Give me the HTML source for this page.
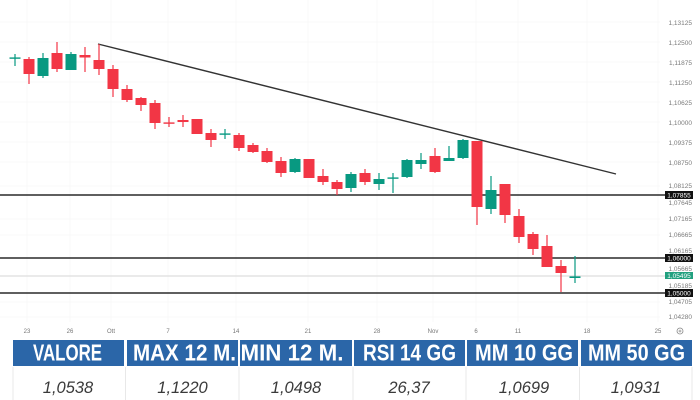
<!DOCTYPE html>
<html><head><meta charset="utf-8"><style>
html,body{margin:0;padding:0;background:#fff;}
svg{display:block;}
</style></head><body>
<svg width="700" height="400" viewBox="0 0 700 400" xmlns="http://www.w3.org/2000/svg" font-family="Liberation Sans, sans-serif">
<rect width="700" height="400" fill="#fff"/>
<!-- faint grid -->
<g stroke="#f8f8f8" stroke-width="1">
<line x1="27" y1="0" x2="27" y2="322"/><line x1="70" y1="0" x2="70" y2="322"/><line x1="111" y1="0" x2="111" y2="322"/>
<line x1="168" y1="0" x2="168" y2="322"/><line x1="236" y1="0" x2="236" y2="322"/><line x1="308" y1="0" x2="308" y2="322"/>
<line x1="377" y1="0" x2="377" y2="322"/><line x1="433" y1="0" x2="433" y2="322"/><line x1="476" y1="0" x2="476" y2="322"/>
<line x1="518" y1="0" x2="518" y2="322"/><line x1="587" y1="0" x2="587" y2="322"/><line x1="658" y1="0" x2="658" y2="322"/>
<line x1="0" y1="22" x2="660" y2="22"/><line x1="0" y1="42" x2="660" y2="42"/><line x1="0" y1="62" x2="660" y2="62"/>
<line x1="0" y1="82" x2="660" y2="82"/><line x1="0" y1="102" x2="660" y2="102"/><line x1="0" y1="122" x2="660" y2="122"/>
<line x1="0" y1="142" x2="660" y2="142"/><line x1="0" y1="162" x2="660" y2="162"/><line x1="0" y1="186" x2="660" y2="186"/>
<line x1="0" y1="219" x2="660" y2="219"/><line x1="0" y1="235" x2="660" y2="235"/><line x1="0" y1="302" x2="660" y2="302"/><line x1="0" y1="317" x2="660" y2="317"/>
</g>
<!-- horizontal levels -->
<line x1="0" y1="276" x2="665" y2="276" stroke="#d6d6d6" stroke-width="1"/>
<g stroke="#2a2a2a" stroke-width="1.4">
<line x1="0" y1="195" x2="665" y2="195"/>
<line x1="0" y1="258" x2="665" y2="258"/>
<line x1="0" y1="293" x2="665" y2="293"/>
</g>
<!-- trend line -->
<line x1="98" y1="44" x2="616" y2="174" stroke="#333" stroke-width="1.4"/>
<!-- candles -->
<g>
<g stroke="#089981" stroke-width="1.2" fill="#089981">
<line x1="15" y1="54" x2="15" y2="66"/><rect x="9.5" y="57.4" width="11" height="1.4" stroke="none"/>
<line x1="43" y1="53" x2="43" y2="78"/><rect x="37.5" y="58" width="11" height="18" stroke="none"/>
<line x1="71" y1="52" x2="71" y2="70"/><rect x="65.5" y="54" width="11" height="16" stroke="none"/>
<line x1="225" y1="129" x2="225" y2="139"/><rect x="219.5" y="133.4" width="11" height="1.4" stroke="none"/>
<line x1="295" y1="158" x2="295" y2="173"/><rect x="289.5" y="159" width="11" height="13" stroke="none"/>
<line x1="351" y1="172" x2="351" y2="192"/><rect x="345.5" y="174" width="11" height="14" stroke="none"/>
<line x1="379" y1="173" x2="379" y2="190"/><rect x="373.5" y="179" width="11" height="5" stroke="none"/>
<line x1="393" y1="173" x2="393" y2="193"/><rect x="387.5" y="177.4" width="11" height="1.4" stroke="none"/>
<line x1="407" y1="159" x2="407" y2="178"/><rect x="401.5" y="160" width="11" height="17" stroke="none"/>
<line x1="421" y1="153" x2="421" y2="169"/><rect x="415.5" y="160" width="11" height="4" stroke="none"/>
<line x1="449" y1="146" x2="449" y2="161"/><rect x="443.5" y="158" width="11" height="3" stroke="none"/>
<line x1="463" y1="139" x2="463" y2="159"/><rect x="457.5" y="140" width="11" height="18" stroke="none"/>
<line x1="491" y1="176" x2="491" y2="214"/><rect x="485.5" y="190" width="11" height="19" stroke="none"/>
<line x1="575" y1="256" x2="575" y2="283"/><rect x="569.5" y="276.4" width="11" height="1.6" stroke="none"/>
</g>
<g stroke="#f23645" stroke-width="1.2" fill="#f23645">
<line x1="29" y1="57" x2="29" y2="84"/><rect x="23.5" y="59" width="11" height="15" stroke="none"/>
<line x1="57" y1="42" x2="57" y2="72"/><rect x="51.5" y="53" width="11" height="16" stroke="none"/>
<line x1="85" y1="47" x2="85" y2="72"/><rect x="79.5" y="55" width="11" height="2.5" stroke="none"/>
<line x1="99" y1="44" x2="99" y2="75"/><rect x="93.5" y="60" width="11" height="9" stroke="none"/>
<line x1="113" y1="65" x2="113" y2="97"/><rect x="107.5" y="69" width="11" height="20" stroke="none"/>
<line x1="127" y1="85" x2="127" y2="102"/><rect x="121.5" y="89" width="11" height="11" stroke="none"/>
<line x1="141" y1="97" x2="141" y2="111"/><rect x="135.5" y="98" width="11" height="7" stroke="none"/>
<line x1="155" y1="100" x2="155" y2="129"/><rect x="149.5" y="103" width="11" height="20" stroke="none"/>
<line x1="169" y1="117" x2="169" y2="127"/><rect x="163.5" y="122.4" width="11" height="1.4" stroke="none"/>
<line x1="183" y1="115" x2="183" y2="127"/><rect x="177.5" y="120" width="11" height="2" stroke="none"/>
<line x1="197" y1="119" x2="197" y2="134"/><rect x="191.5" y="119" width="11" height="15" stroke="none"/>
<line x1="211" y1="129" x2="211" y2="147"/><rect x="205.5" y="133" width="11" height="7" stroke="none"/>
<line x1="239" y1="133" x2="239" y2="151"/><rect x="233.5" y="135" width="11" height="13" stroke="none"/>
<line x1="253" y1="143" x2="253" y2="153"/><rect x="247.5" y="145" width="11" height="7" stroke="none"/>
<line x1="267" y1="148" x2="267" y2="163"/><rect x="261.5" y="151" width="11" height="11" stroke="none"/>
<line x1="281" y1="157" x2="281" y2="177"/><rect x="275.5" y="161" width="11" height="12" stroke="none"/>
<line x1="309" y1="159" x2="309" y2="178"/><rect x="303.5" y="159" width="11" height="19" stroke="none"/>
<line x1="323" y1="169" x2="323" y2="185"/><rect x="317.5" y="176" width="11" height="6" stroke="none"/>
<line x1="337" y1="180" x2="337" y2="195"/><rect x="331.5" y="182" width="11" height="7" stroke="none"/>
<line x1="365" y1="169" x2="365" y2="185"/><rect x="359.5" y="173" width="11" height="9" stroke="none"/>
<line x1="435" y1="148" x2="435" y2="173"/><rect x="429.5" y="156" width="11" height="16" stroke="none"/>
<line x1="477" y1="141" x2="477" y2="225"/><rect x="471.5" y="141" width="11" height="66" stroke="none"/>
<line x1="505" y1="184" x2="505" y2="223"/><rect x="499.5" y="184" width="11" height="31" stroke="none"/>
<line x1="519" y1="209" x2="519" y2="243"/><rect x="513.5" y="216" width="11" height="21" stroke="none"/>
<line x1="533" y1="232" x2="533" y2="255"/><rect x="527.5" y="234" width="11" height="15" stroke="none"/>
<line x1="547" y1="235" x2="547" y2="267"/><rect x="541.5" y="246" width="11" height="21" stroke="none"/>
<line x1="561" y1="260" x2="561" y2="292"/><rect x="555.5" y="266" width="11" height="7" stroke="none"/>
</g>
</g>
<!-- y axis labels -->
<g font-size="6.5" fill="#7a7a7a" text-anchor="end">
<text x="692" y="25">1,13125</text>
<text x="692" y="45">1,12500</text>
<text x="692" y="65">1,11875</text>
<text x="692" y="85">1,11250</text>
<text x="692" y="105">1,10625</text>
<text x="692" y="125">1,10000</text>
<text x="692" y="145">1,09375</text>
<text x="692" y="165">1,08750</text>
<text x="692" y="188">1,08125</text>
<text x="692" y="205">1,07645</text>
<text x="692" y="221">1,07165</text>
<text x="692" y="237">1,06665</text>
<text x="692" y="253">1,06165</text>
<text x="692" y="271">1,05665</text>
<text x="692" y="288">1,05185</text>
<text x="692" y="304">1,04705</text>
<text x="692" y="319">1,04280</text>
</g>
<!-- price boxes -->
<rect x="665" y="191" width="28" height="8" fill="#111"/>
<text x="679" y="197.3" font-size="6.5" fill="#fff" text-anchor="middle">1,07855</text>
<rect x="665" y="254" width="28" height="8" fill="#111"/>
<text x="679" y="260.3" font-size="6.5" fill="#fff" text-anchor="middle">1,06000</text>
<rect x="665" y="272" width="28" height="7" fill="#22a07f"/>
<text x="679" y="277.8" font-size="6.5" fill="#fff" text-anchor="middle">1,05495</text>
<rect x="665" y="289" width="28" height="8" fill="#111"/>
<text x="679" y="295.3" font-size="6.5" fill="#fff" text-anchor="middle">1,05000</text>
<!-- x axis labels -->
<g font-size="6" fill="#777" text-anchor="middle">
<text x="27" y="333">23</text>
<text x="70" y="333">26</text>
<text x="111" y="333">Ott</text>
<text x="168" y="333">7</text>
<text x="236" y="333">14</text>
<text x="308" y="333">21</text>
<text x="377" y="333">28</text>
<text x="433" y="333">Nov</text>
<text x="476" y="333">6</text>
<text x="518" y="333">11</text>
<text x="587" y="333">18</text>
<text x="658" y="333">25</text>
</g>
<circle cx="680" cy="331" r="3" fill="none" stroke="#888" stroke-width="0.8"/>
<circle cx="680" cy="331" r="1" fill="none" stroke="#888" stroke-width="0.6"/>
<!-- table header -->
<g fill="#2b66a8">
<rect x="13" y="340" width="111" height="26"/>
<rect x="127" y="340" width="111" height="26"/>
<rect x="240" y="340" width="112" height="26"/>
<rect x="354" y="340" width="111" height="26"/>
<rect x="467" y="340" width="111" height="26"/>
<rect x="581" y="340" width="111" height="26"/>
</g>
<g font-size="23" font-weight="bold" fill="#fff" text-anchor="middle">
<text x="67.5" y="360.5" textLength="69" lengthAdjust="spacingAndGlyphs">VALORE</text>
<text x="184.5" y="360.5" textLength="103" lengthAdjust="spacingAndGlyphs">MAX 12 M.</text>
<text x="292" y="360.5" textLength="103" lengthAdjust="spacingAndGlyphs">MIN 12 M.</text>
<text x="409.5" y="360.5" textLength="93" lengthAdjust="spacingAndGlyphs">RSI 14 GG</text>
<text x="524" y="360.5" textLength="98" lengthAdjust="spacingAndGlyphs">MM 10 GG</text>
<text x="636.5" y="360.5" textLength="97" lengthAdjust="spacingAndGlyphs">MM 50 GG</text>
</g>
<!-- value row -->
<g stroke="#e8e8e8" stroke-width="1">
<line x1="13" y1="367" x2="13" y2="400"/>
<line x1="125.5" y1="367" x2="125.5" y2="400"/>
<line x1="239" y1="367" x2="239" y2="400"/>
<line x1="353" y1="367" x2="353" y2="400"/>
<line x1="466" y1="367" x2="466" y2="400"/>
<line x1="579.5" y1="367" x2="579.5" y2="400"/>
<line x1="692" y1="367" x2="692" y2="400"/>
</g>
<g font-size="16.5" font-style="italic" fill="#3a3a3a" text-anchor="middle">
<text x="68" y="393">1,0538</text>
<text x="182.5" y="393">1,1220</text>
<text x="296" y="393">1,0498</text>
<text x="409" y="393">26,37</text>
<text x="524" y="393">1,0699</text>
<text x="636" y="393">1,0931</text>
</g>
</svg>
</body></html>
